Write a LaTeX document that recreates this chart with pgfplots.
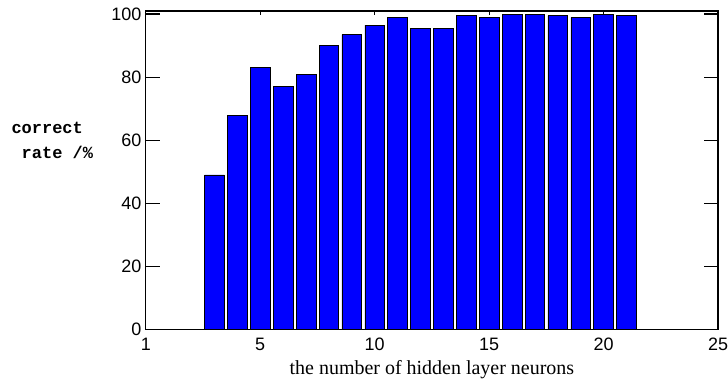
\documentclass[border=0pt]{standalone}
\usepackage{pgfplots}
\pgfplotsset{compat=1.18}
\usepackage{fontspec}
\setmainfont{Liberation Sans}
\newfontfamily\seriff{Liberation Serif}
\newfontfamily\monof{Liberation Mono}
\begin{document}
\begin{tikzpicture}
\path[use as bounding box] (-146pt,-53pt) rectangle (583pt,330pt);
\begin{axis}[
  at={(0,0)}, anchor=south west,
  scale only axis,
  width=573pt, height=319pt,
  xmin=0, xmax=25, ymin=0, ymax=101,
  xtick={0,5,10,15,20,25},
  xticklabels={1,5,10,15,20,25},
  ytick={0,20,40,60,80,100},
  tick align=inside,
  xtick style={draw=none},
  ytick style={line width=1.3pt, black},
  major tick length=14pt,
  axis line style={line width=1.3pt},
  tick label style={font=\fontsize{18}{20}\selectfont},
  /pgf/number format/assume math mode=true,
  xticklabel style={yshift=9pt},
  yticklabel style={xshift=-1pt},
  xlabel={\seriff\fontsize{20}{22}\selectfont the number of hidden layer neurons},
  xlabel style={at={(axis description cs:0.5,0)}, anchor=north, yshift=-31pt, inner sep=0pt},
  ybar, bar width=0.86,
]
\addplot[fill={rgb,255:red,0;green,0;blue,255}, draw=black, line width=0.6pt] coordinates {
(3,49) (4,68) (5,83) (6,77) (7,81) (8,90) (9,93.5) (10,96.5) (11,99) (12,95.5)
(13,95.5) (14,99.5) (15,99) (16,99.8) (17,99.8) (18,99.5) (19,99) (20,99.8) (21,99.5)
};
\draw[line width=1pt] (axis cs:5,101) -- ++(0,-4pt) (axis cs:10,101) -- ++(0,-4pt)
  (axis cs:15,101) -- ++(0,-4pt) (axis cs:20,101) -- ++(0,-4pt);
\end{axis}
\node[anchor=west, align=left, font=\monof\bfseries\fontsize{17}{25}\selectfont] at (-138pt,189pt) {correct\\\ rate /\%};
\end{tikzpicture}
\end{document}
